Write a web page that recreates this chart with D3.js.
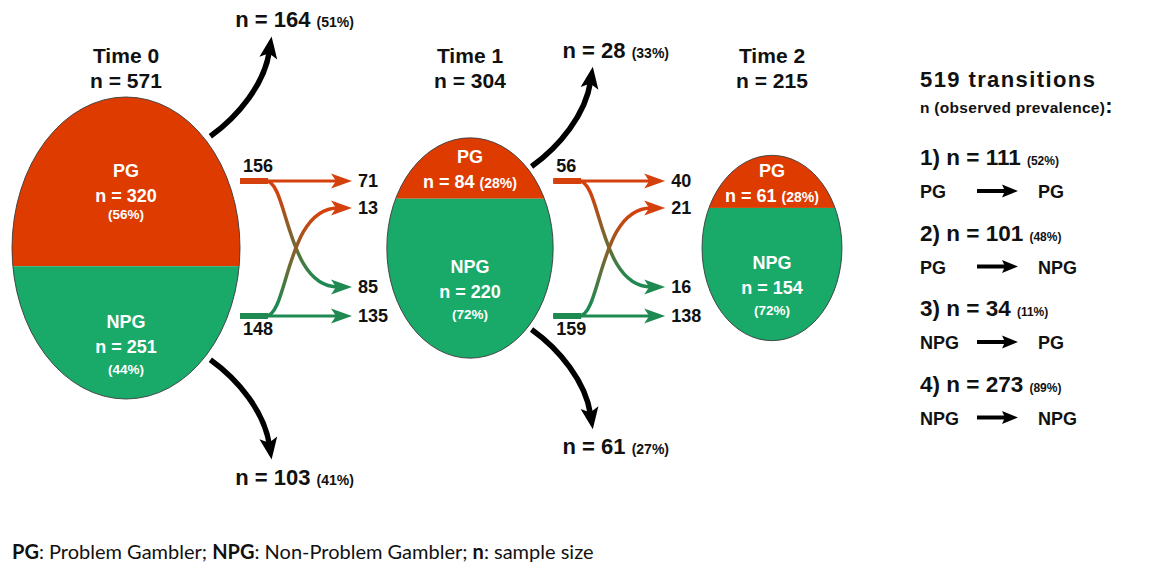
<!DOCTYPE html>
<html><head><meta charset="utf-8">
<script src="https://cdn.jsdelivr.net/npm/d3@7"></script>
<style>
body{margin:0;background:#fff}
svg{display:block}
text{font-family:"Liberation Sans",Arial,Helvetica,sans-serif;font-weight:bold;fill:#111}
</style>
</head><body><svg id="c" width="1152" height="566"></svg>
<script>
// ---------- data ----------
const times = ["Time 0", "Time 1", "Time 2"];
const totals = [571, 304, 215];
const pgCounts = [320, 84, 61];
const npgCounts = [251, 220, 154];
const pgPct = ["56%", "28%", "28%"];
const npgPct = ["44%", "72%", "72%"];
const dropTopN = [164, 28];
const dropTopPct = ["51%", "33%"];
const dropBotN = [103, 61];
const dropBotPct = ["41%", "27%"];
const fromPG = [156, 56];
const fromNPG = [148, 159];
const pgToPG = [71, 40];
const npgToPG = [13, 21];
const pgToNPG = [85, 16];
const npgToNPG = [135, 138];
const totalTransitions = 519;
const legendN = [111, 101, 34, 273];
const legendPct = ["52%", "48%", "11%", "89%"];
const legendFrom = ["PG", "PG", "NPG", "NPG"];
const legendTo = ["PG", "NPG", "PG", "NPG"];
const footParts = ["PG", ": Problem Gambler; ", "NPG", ": Non-Problem Gambler; ", "n", ": sample size"];
const footBold = [true, false, true, false, true, false];

// ---------- styles ----------
const RED = "#DE3B00", GREEN = "#19A968";
const ARED = "#D4410C", AGREEN = "#1E8A52";

const svg = d3.select("#c");
const defs = svg.append("defs");

const xPos = d3.scaleOrdinal().domain(times).range([126, 470, 772]);
const rxS = d3.scaleSqrt().domain([0, 571]).range([0, 114]);
const ryS = d3.scaleSqrt().domain([0, 571]).range([0, 151]);
const CY = 248;

function head(g, tx, ty, ang, L, W, n, color) {
  const dx = Math.cos(ang), dy = Math.sin(ang), px = -dy, py = dx;
  const pts = [[tx, ty],
    [tx - L * dx + W * px, ty - L * dy + W * py],
    [tx - (L - n) * dx, ty - (L - n) * dy],
    [tx - L * dx - W * px, ty - L * dy - W * py]];
  g.append("path").attr("d", d3.line()(pts) + "Z").attr("fill", color);
}

// ---------- ellipses ----------
times.forEach((t, i) => {
  const cx = xPos(t), rx = rxS(totals[i]), ry = ryS(totals[i]);
  const top = CY - ry, bot = CY + ry;
  const split = top + 2 * ry * pgCounts[i] / totals[i];
  const g = svg.append("g");
  defs.append("clipPath").attr("id", "cl" + i)
    .append("ellipse").attr("cx", cx).attr("cy", CY).attr("rx", rx).attr("ry", ry);
  g.append("rect").attr("x", cx - rx).attr("y", top).attr("width", 2 * rx).attr("height", split - top)
    .attr("fill", RED).attr("clip-path", `url(#cl${i})`);
  g.append("rect").attr("x", cx - rx).attr("y", split).attr("width", 2 * rx).attr("height", bot - split)
    .attr("fill", GREEN).attr("clip-path", `url(#cl${i})`);
  g.append("ellipse").attr("cx", cx).attr("cy", CY).attr("rx", rx).attr("ry", ry)
    .attr("fill", "none").attr("stroke", "#3a3a3a").attr("stroke-width", 0.9);

  // titles
  g.append("text").attr("x", cx).attr("y", 63).attr("text-anchor", "middle").attr("font-size", 21).text(t);
  g.append("text").attr("x", cx).attr("y", 88).attr("text-anchor", "middle").attr("font-size", 21).text("n = " + totals[i]);

  // PG block
  const pc = (top + split) / 2;
  g.append("text").attr("x", cx).attr("y", pc - 5).attr("text-anchor", "middle").attr("font-size", 18).style("fill", "#fff").text("PG");
  if (pgCounts[i] / totals[i] < 0.4) {
    const tt = g.append("text").attr("x", cx).attr("y", pc + 20).attr("text-anchor", "middle").style("fill", "#fff");
    tt.append("tspan").attr("font-size", 18).text("n = " + pgCounts[i] + " ");
    tt.append("tspan").attr("font-size", 14).text("(" + pgPct[i] + ")");
  } else {
    g.append("text").attr("x", cx).attr("y", pc + 20).attr("text-anchor", "middle").attr("font-size", 18).style("fill", "#fff").text("n = " + pgCounts[i]);
    g.append("text").attr("x", cx).attr("y", pc + 37).attr("text-anchor", "middle").attr("font-size", 13.5).style("fill", "#fff").text("(" + pgPct[i] + ")");
  }
  // NPG block
  const nc = (split + bot) / 2;
  g.append("text").attr("x", cx).attr("y", nc - 5).attr("text-anchor", "middle").attr("font-size", 18).style("fill", "#fff").text("NPG");
  g.append("text").attr("x", cx).attr("y", nc + 20).attr("text-anchor", "middle").attr("font-size", 18).style("fill", "#fff").text("n = " + npgCounts[i]);
  g.append("text").attr("x", cx).attr("y", nc + 41).attr("text-anchor", "middle").attr("font-size", 13.5).style("fill", "#fff").text("(" + npgPct[i] + ")");
});

// ---------- dropout arrows ----------
function dropArrow(i, up, nVal, pct) {
  const t = times[i];
  const cx = xPos(t), rx = rxS(totals[i]), ry = ryS(totals[i]);
  const s = up ? -1 : 1;
  const sx = cx + rx * 0.74, sy = CY + s * ry * 0.74;
  const g = svg.append("g");
  const c1 = [sx + 28, sy + s * 20], c2 = [sx + 54, sy + s * 52], e = [sx + 59, sy + s * 85];
  g.append("path").attr("d", `M${sx},${sy}C${c1}  ${c2} ${e}`)
    .attr("fill", "none").attr("stroke", "#000").attr("stroke-width", 5.5);
  const ang = Math.atan2(e[1] - c2[1], e[0] - c2[0]);
  const tip = [e[0] + 15 * Math.cos(ang), e[1] + 15 * Math.sin(ang)];
  head(g, tip[0], tip[1], ang, 22, 9, 5, "#000");
  const ty = up ? tip[1] - 9 : tip[1] + 25;
  const tt = g.append("text").attr("x", tip[0] + 23).attr("y", ty).attr("text-anchor", "middle");
  tt.append("tspan").attr("font-size", 22).text("n = " + nVal + " ");
  tt.append("tspan").attr("font-size", 14).text("(" + pct + ")");
}
[0, 1].forEach(i => {
  dropArrow(i, true, dropTopN[i], dropTopPct[i]);
  dropArrow(i, false, dropBotN[i], dropBotPct[i]);
});

// ---------- transition arrows ----------
const Y_TOP = 181, Y_UP = 208, Y_DOWN = 287, Y_BOT = 316;
[0, 1].forEach(i => {
  const t = times[i];
  const x0 = xPos(t) + rxS(totals[i]);
  const xe = x0 + 112;          // arrow tip
  const xE = xe - 14;           // line end inside head
  const xs = x0 + 26;           // branch start
  const g = svg.append("g");

  const gd = defs.append("linearGradient").attr("id", "gd" + i).attr("gradientUnits", "userSpaceOnUse")
    .attr("x1", 0).attr("y1", Y_TOP).attr("x2", 0).attr("y2", Y_DOWN);
  gd.append("stop").attr("offset", 0.1).attr("stop-color", ARED);
  gd.append("stop").attr("offset", 0.95).attr("stop-color", AGREEN);
  const gu = defs.append("linearGradient").attr("id", "gu" + i).attr("gradientUnits", "userSpaceOnUse")
    .attr("x1", 0).attr("y1", Y_BOT).attr("x2", 0).attr("y2", Y_UP);
  gu.append("stop").attr("offset", 0.1).attr("stop-color", AGREEN);
  gu.append("stop").attr("offset", 0.95).attr("stop-color", ARED);

  // curves
  g.append("path").attr("d", `M${xs},${Y_TOP}C${xs + 22},${Y_TOP} ${xs + 20},${Y_DOWN} ${xE},${Y_DOWN}`)
    .attr("fill", "none").attr("stroke", `url(#gd${i})`).attr("stroke-width", 3.5);
  g.append("path").attr("d", `M${xs},${Y_BOT}C${xs + 22},${Y_BOT} ${xs + 20},${Y_UP} ${xE},${Y_UP}`)
    .attr("fill", "none").attr("stroke", `url(#gu${i})`).attr("stroke-width", 3.5);
  // straight
  g.append("line").attr("x1", x0).attr("x2", xE).attr("y1", Y_TOP).attr("y2", Y_TOP).attr("stroke", ARED).attr("stroke-width", 3);
  g.append("line").attr("x1", x0).attr("x2", xE).attr("y1", Y_BOT).attr("y2", Y_BOT).attr("stroke", AGREEN).attr("stroke-width", 3);
  // thick stubs
  g.append("line").attr("x1", x0).attr("x2", x0 + 28).attr("y1", Y_TOP).attr("y2", Y_TOP).attr("stroke", ARED).attr("stroke-width", 6);
  g.append("line").attr("x1", x0).attr("x2", x0 + 28).attr("y1", Y_BOT).attr("y2", Y_BOT).attr("stroke", AGREEN).attr("stroke-width", 6);
  // heads
  head(g, xe, Y_TOP, 0, 21, 7.5, 5, ARED);
  head(g, xe, Y_UP, 0, 21, 7.5, 5, ARED);
  head(g, xe, Y_DOWN, 0, 21, 7.5, 5, AGREEN);
  head(g, xe, Y_BOT, 0, 21, 7.5, 5, AGREEN);
  // labels
  g.append("text").attr("x", x0 + 3).attr("y", Y_TOP - 9).attr("font-size", 18).text(fromPG[i]);
  g.append("text").attr("x", x0 + 3).attr("y", Y_BOT + 19).attr("font-size", 18).text(fromNPG[i]);
  const lx = xe + 6;
  g.append("text").attr("x", lx).attr("y", Y_TOP + 6).attr("font-size", 18).text(pgToPG[i]);
  g.append("text").attr("x", lx).attr("y", Y_UP + 6).attr("font-size", 18).text(npgToPG[i]);
  g.append("text").attr("x", lx).attr("y", Y_DOWN + 6).attr("font-size", 18).text(pgToNPG[i]);
  g.append("text").attr("x", lx).attr("y", Y_BOT + 6).attr("font-size", 18).text(npgToNPG[i]);
});

// ---------- legend ----------
const LX = 920;
const lg = svg.append("g");
lg.append("text").attr("x", LX).attr("y", 87).attr("font-size", 22).attr("letter-spacing", 1.4).text(totalTransitions + " transitions");
const sub = lg.append("text").attr("x", LX).attr("y", 113);
sub.append("tspan").attr("font-size", 15.5).attr("letter-spacing", 0.3).text("n (observed prevalence)");
sub.append("tspan").attr("font-size", 22).text(":");
legendN.forEach((n, k) => {
  const by = 165 + k * 75.5;
  const tt = lg.append("text").attr("x", LX).attr("y", by);
  tt.append("tspan").attr("font-size", 22.5).text(`${k + 1}) n = ${n} `);
  tt.append("tspan").attr("font-size", 12).text(`(${legendPct[k]})`);
  const ry = by + 33;
  lg.append("text").attr("x", LX).attr("y", ry).attr("font-size", 18).text(legendFrom[k]);
  lg.append("text").attr("x", 1038).attr("y", ry).attr("font-size", 18).text(legendTo[k]);
  lg.append("line").attr("x1", 977).attr("x2", 1008).attr("y1", ry - 7).attr("y2", ry - 7).attr("stroke", "#000").attr("stroke-width", 4);
  head(lg, 1018, ry - 7, 0, 16, 6.5, 3, "#000");
});

// ---------- footnote ----------
const ft = svg.append("text").attr("x", 12).attr("y", 559).attr("font-size", 20)
  .style("font-family", "Lato, 'Open Sans', sans-serif").style("font-weight", "normal");
footParts.forEach((p, k) => ft.append("tspan").style("font-weight", footBold[k] ? "bold" : "normal").text(p));
</script>
</body></html>
